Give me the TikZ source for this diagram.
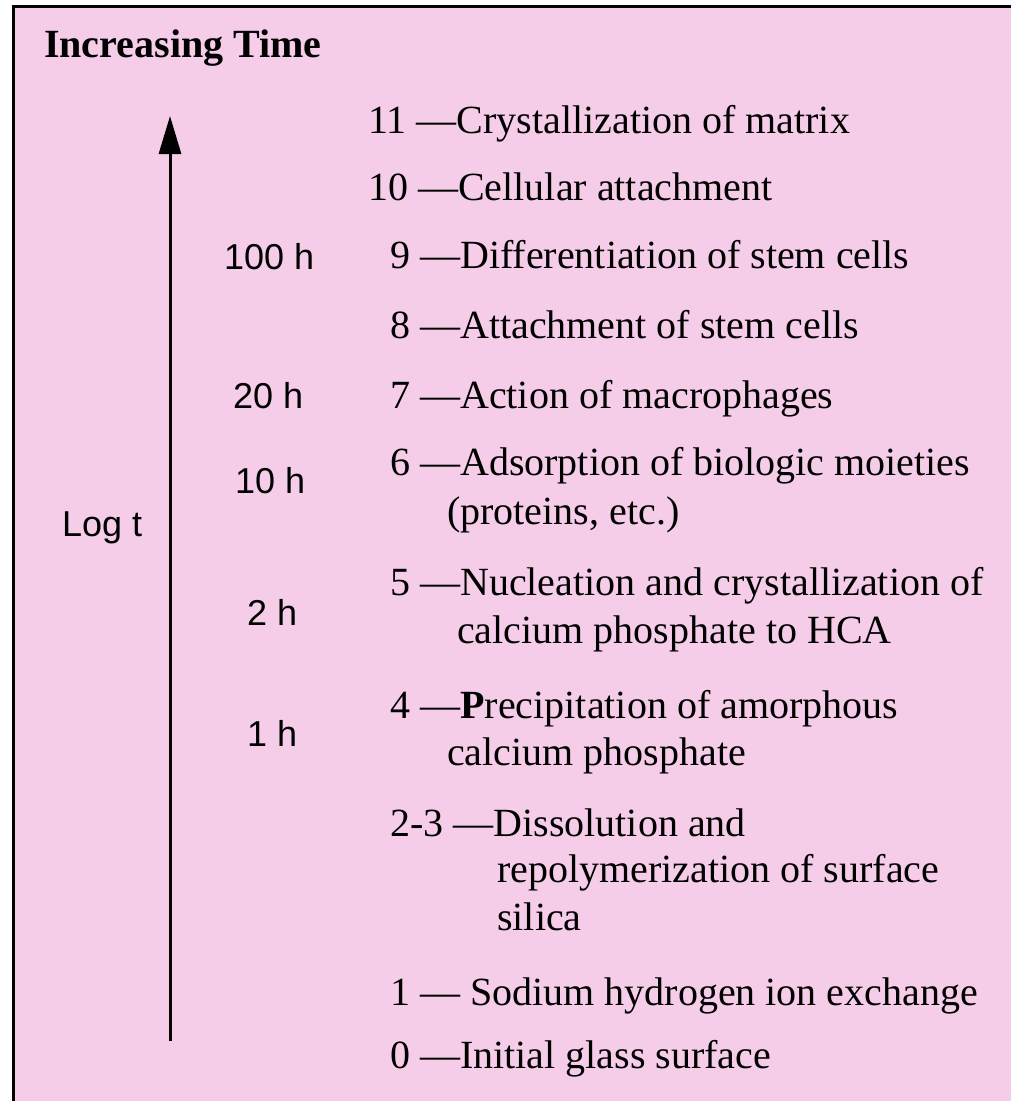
\documentclass[tikz,border=0pt]{standalone}
\usepackage{fontspec}
\setmainfont{Liberation Serif}
\setsansfont{Liberation Sans}
\usetikzlibrary{arrows.meta}
\definecolor{panelpink}{RGB}{245,205,232}

\begin{document}
\begin{tikzpicture}[
        x=1pt, y=-1pt,
        stage/.style={
            anchor=base west,
            inner sep=0pt,
            font=\fontsize{40}{48}\selectfont
        },
        hours/.style={
            anchor=base west,
            inner sep=0pt,
            font=\sffamily\fontsize{36}{40}\selectfont
        },
        arrow/.style={-{Triangle[length=38pt, width=22pt]}, line width=3pt}
    ]
        \useasboundingbox (0,0) rectangle (1011,1101);
        \fill[panelpink] (13,6) rectangle (1011,1101);
        \draw[line width=3pt] (13.5,1101) -- (13.5,6.5) -- (1011,6.5);

        \node[stage, font=\bfseries\fontsize{40}{48}\selectfont] (title) at (44,57) {Increasing Time};

        % time axis
        \coordinate (axisbot) at (170,1041);
        \coordinate (axistop) at (170,116);
        \draw[arrow] (axisbot) -- (axistop);
        \node[hours] (logt) at (62,536) {Log t};

        \node[hours] (h100) at (224,269) {100 h};
        \node[hours] (h20) at (233,408) {20 h};
        \node[hours] (h10) at (235,493) {10 h};
        \node[hours] (h2) at (247,625) {2 h};
        \node[hours] (h1) at (247,746) {1 h};

        % stages
        \node[stage] (s11) at (368,133) {11 —Crystallization of matrix};
        \node[stage] (s10) at (368,200) {10 —Cellular attachment};
        \node[stage] (s9) at (390,268) {9 —Differentiation of stem cells};
        \node[stage] (s8) at (390,338) {8 —Attachment of stem cells};
        \node[stage] (s7) at (390,408) {7 —Action of macrophages};
        \node[stage] (s6) at (390,475) {6 —Adsorption of biologic moieties};
        \node[stage] (s6b) at (447,524) {(proteins, etc.)};
        \node[stage] (s5) at (390,595) {5 —Nucleation and crystallization of};
        \node[stage] (s5b) at (457,643) {calcium phosphate to HCA};
        \node[stage] (s4) at (390,718) {4 —\textbf{P}recipitation of amorphous};
        \node[stage] (s4b) at (447,765) {calcium phosphate};
        \node[stage] (s23) at (390,836) {2-3 —Dissolution and};
        \node[stage] (s23b) at (497,882) {repolymerization of surface};
        \node[stage] (s23c) at (497,930) {silica};
        \node[stage] (s1) at (390,1005) {1 — Sodium hydrogen ion exchange};
        \node[stage] (s0) at (390,1068) {0 —Initial glass surface};
    \end{tikzpicture}
\end{document}
